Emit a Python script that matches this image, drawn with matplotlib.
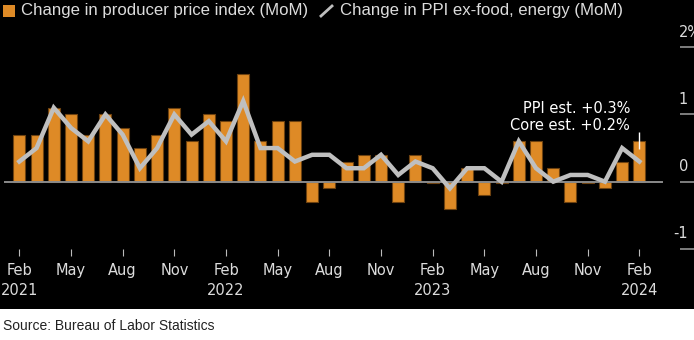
import matplotlib.pyplot as plt
import numpy as np
from matplotlib.patches import Rectangle
from matplotlib.lines import Line2D

# monthly changes, Feb 2021 .. Feb 2024 (percent, MoM)
months = ['Feb', 'Mar', 'Apr', 'May', 'Jun', 'Jul', 'Aug', 'Sep', 'Oct', 'Nov', 'Dec', 'Jan']
start_year = 2021
ppi = [0.7, 0.7, 1.1, 1.0, 0.7, 1.0, 0.8, 0.5, 0.7, 1.1, 0.6,
       1.0, 0.9, 1.6, 0.6, 0.9, 0.9, -0.3, -0.1, 0.3, 0.4, 0.4, -0.3,
       0.4, -0.02, -0.4, 0.2, -0.2, -0.02, 0.6, 0.6, 0.2, -0.3, -0.02, -0.1,
       0.3, 0.6]
core = [0.3, 0.5, 1.1, 0.8, 0.6, 1.0, 0.7, 0.2, 0.5, 1.0, 0.7,
        0.9, 0.6, 1.2, 0.5, 0.5, 0.3, 0.4, 0.4, 0.2, 0.2, 0.4, 0.1,
        0.3, 0.2, -0.1, 0.2, 0.2, 0.0, 0.6, 0.2, 0.0, 0.1, 0.1, 0.0,
        0.5, 0.3]
est_range = [0.48, 0.74]
y_ticks = [-1, 0, 1, 2]
y_labels = ['-1', '0', '1', '2%']

bar_color = '#DE8A26'
line_color = '#BFBFBF'
txt_color = '#DCDCDC'

W, H = 694, 340
fig = plt.figure(figsize=(W / 100, H / 100), dpi=100, facecolor='white')
# black panel behind everything except the source line
fig.patches.append(Rectangle((0, (H - 308.5) / H), 1, 1, transform=fig.transFigure,
                             facecolor='black', edgecolor='none', zorder=-5))

ax = fig.add_axes([4 / W, (H - 256) / H, 676 / W, 226 / H])
ax.set_facecolor('black')

x = np.arange(len(ppi))
ax.bar(x, ppi, width=0.7, color=bar_color, edgecolor='#6e4210', linewidth=0.8, zorder=2)
ax.axhline(0, xmin=0, xmax=658 / 676, color='#8a8a8a', linewidth=1.4, zorder=3)
ax.plot(x, core, color=line_color, linewidth=3.2, solid_joinstyle='miter', zorder=4)

# estimate marker on the last month
ax.vlines(x[-1], est_range[0], est_range[1], color='white', linewidth=1, zorder=5)
ax.text(x[-1] - 0.55, 0.96, 'PPI est. +0.3%\nCore est. +0.2%', color='white',
        fontsize=10.5, ha='right', va='center', multialignment='right', linespacing=1.2)

ax.set_xlim(-0.89, 38.36)
ax.set_ylim(-1.106, 2.257)

# x axis: ticks every 3 months, years under February
tick_pos = x[::3]
tick_lab = []
for i in tick_pos:
    m = months[i % 12]
    if m == 'Feb':
        m += '\n' + str(start_year + (i + 1) // 12)
    tick_lab.append(m)
ax.set_xticks(tick_pos)
ax.set_xticklabels(tick_lab, color=txt_color, fontsize=10.5, linespacing=1.45)
ax.tick_params(axis='x', direction='in', length=5, width=0.8, color='#BBBBBB', pad=5)

# right axis: short ticks with the labels sitting on top of them
ax.yaxis.tick_right()
ax.set_yticks(y_ticks)
ax.set_yticklabels([])
ax.tick_params(axis='y', direction='out', length=10, width=1.1, color='#A0A0A0', pad=0)
for v, lab in zip(y_ticks, y_labels):
    if lab.endswith('%'):
        ax.annotate(lab, xy=(1, v), xycoords=ax.get_yaxis_transform(), xytext=(-1, 15),
                    textcoords='offset pixels', ha='left', va='center', color=txt_color, fontsize=10.5,
                    annotation_clip=False)
    else:
        ax.annotate(lab, xy=(1, v), xycoords=ax.get_yaxis_transform(), xytext=(8, 15),
                    textcoords='offset pixels', ha='right', va='center', color=txt_color, fontsize=10.5,
                    annotation_clip=False)

for s in ax.spines.values():
    s.set_visible(False)

# legend along the top
legend_font = ['Liberation Sans', 'DejaVu Sans']
fig.patches.append(Rectangle((3 / W, (H - 17) / H), 12 / W, 12 / H, transform=fig.transFigure,
                             facecolor=bar_color, edgecolor='none'))
fig.text(21 / W, (H - 11) / H, 'Change in producer price index (MoM)', color=txt_color,
         fontsize=12.1, family=legend_font, va='center')
fig.lines.append(Line2D([321 / W, 332 / W], [(H - 16) / H, (H - 6) / H], transform=fig.transFigure,
                        color=line_color, linewidth=2))
fig.text(340 / W, (H - 11) / H, 'Change in PPI ex-food, energy (MoM)', color=txt_color,
         fontsize=12.1, family=legend_font, va='center')

fig.text(3 / W, (H - 326) / H, 'Source: Bureau of Labor Statistics', color='#222222',
         fontsize=10, family=['Liberation Sans', 'DejaVu Sans'], va='center')

fig.savefig('out.png', dpi=100, facecolor=fig.get_facecolor())
